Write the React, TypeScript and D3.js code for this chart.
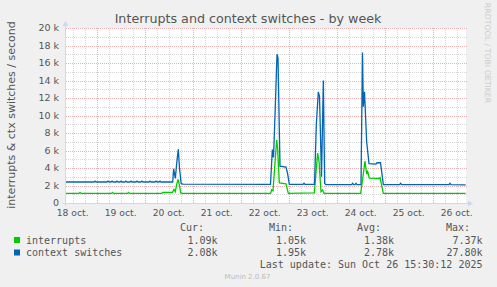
import React from "react";
import * as d3 from "d3";

const W = 497;
const H = 287;

const yTicks = [0, 2000, 4000, 6000, 8000, 10000, 12000, 14000, 16000, 18000, 20000];
const yTickLabels = ["0", "2 k", "4 k", "6 k", "8 k", "10 k", "12 k", "14 k", "16 k", "18 k", "20 k"];
const dayLabels = ["18 oct.", "19 oct.", "20 oct.", "21 oct.", "22 oct.", "23 oct.", "24 oct.", "25 oct.", "26 oct."];
const dayNumbers = [18, 19, 20, 21, 22, 23, 24, 25, 26];

// [ "day hh:mm", value in k ]
const interruptsPts: [string, number][] = [
  ["18 08:40", 1.1], ["18 15:10", 1.1], ["18 15:40", 1.22], ["18 16:10", 1.1],
  ["19 07:25", 1.1], ["19 07:55", 1.22], ["19 08:25", 1.1],
  ["19 15:25", 1.1], ["19 15:55", 1.22], ["19 16:25", 1.1],
  ["20 08:30", 1.1], ["20 09:00", 1.2], ["20 13:55", 1.22], ["20 14:40", 1.55], ["20 15:20", 1.3],
  ["20 15:55", 2.0], ["20 16:40", 2.7], ["20 17:20", 2.1], ["20 18:00", 1.15], ["20 19:00", 1.1],
  ["22 15:00", 1.1], ["22 15:30", 1.5], ["22 16:10", 1.4], ["22 16:55", 3.8], ["22 18:00", 7.2],
  ["22 18:30", 6.2], ["22 19:20", 2.3], ["22 22:40", 2.2], ["22 23:50", 1.1],
  ["23 12:50", 1.15], ["23 13:40", 3.5], ["23 14:30", 5.7], ["23 15:10", 4.8], ["23 16:10", 1.3],
  ["23 17:00", 1.5], ["23 17:40", 1.1],
  ["24 12:00", 1.1], ["24 12:55", 2.6], ["24 14:10", 4.8], ["24 15:00", 3.3], ["24 15:30", 3.6],
  ["24 16:20", 2.85], ["24 21:10", 2.8], ["24 21:40", 2.9], ["24 23:20", 1.1],
  ["26 16:30", 1.09],
];

const ctxPts: [string, number][] = [
  ["18 08:40", 2.4],
  ["18 22:40", 2.4], ["18 23:10", 2.5], ["18 23:40", 2.4],
  ["19 05:10", 2.4], ["19 05:40", 2.5], ["19 06:10", 2.4],
  ["19 07:10", 2.4], ["19 07:40", 2.5], ["19 08:10", 2.4],
  ["19 09:40", 2.4], ["19 10:10", 2.5], ["19 10:40", 2.4],
  ["19 11:40", 2.4], ["19 12:10", 2.5], ["19 12:40", 2.4],
  ["19 14:10", 2.4], ["19 14:40", 2.5], ["19 15:10", 2.4],
  ["19 16:40", 2.4], ["19 17:10", 2.5], ["19 17:40", 2.4],
  ["19 19:40", 2.4], ["19 20:10", 2.5], ["19 20:40", 2.4],
  ["19 22:10", 2.4], ["19 22:40", 2.5], ["19 23:10", 2.4],
  ["20 02:10", 2.4], ["20 02:40", 2.5], ["20 03:10", 2.4],
  ["20 05:10", 2.4], ["20 05:40", 2.5], ["20 06:10", 2.4],
  ["20 07:10", 2.4], ["20 07:40", 2.5], ["20 08:10", 2.4],
  ["20 14:00", 2.4], ["20 14:30", 3.9], ["20 15:20", 2.8], ["20 16:00", 4.5], ["20 16:50", 6.15],
  ["20 17:25", 4.0], ["20 18:15", 2.2], ["20 19:10", 2.15],
  ["22 14:55", 2.12], ["22 15:50", 6.1], ["22 16:25", 5.2], ["22 17:10", 10], ["22 18:10", 17],
  ["22 18:40", 16.6], ["22 19:40", 4.2], ["22 22:40", 4.1], ["22 23:25", 3.4], ["23 00:20", 2.12],
  ["23 07:10", 2.12], ["23 07:40", 2.25], ["23 08:10", 2.12],
  ["23 12:55", 2.12], ["23 13:50", 9], ["23 14:50", 12.7], ["23 15:25", 12.2], ["23 16:25", 3.0],
  ["23 17:20", 14], ["23 18:00", 2.2], ["23 18:40", 2.1],
  ["24 07:30", 2.1], ["24 08:00", 2.25], ["24 08:30", 2.1],
  ["24 09:10", 2.1], ["24 09:40", 2.25], ["24 10:10", 2.1],
  ["24 12:10", 2.1], ["24 12:55", 17.2], ["24 13:20", 11], ["24 13:55", 12.7], ["24 15:00", 7],
  ["24 16:10", 4.5], ["24 19:40", 4.45], ["24 20:10", 4.6], ["24 21:55", 4.6], ["24 23:20", 2.1],
  ["25 07:30", 2.1], ["25 08:00", 2.25], ["25 08:30", 2.1],
  ["26 08:10", 2.1], ["26 08:40", 2.25], ["26 09:10", 2.1],
  ["26 16:30", 2.08],
];

const legendRows = [
  { name: "interrupts", color: "#00CC00", cur: "1.09k", min: "1.05k", avg: "1.38k", max: "7.37k" },
  { name: "context switches", color: "#0066B3", cur: "2.08k", min: "1.95k", avg: "2.78k", max: "27.80k" },
];

function parseT(s: string): Date {
  const [d, hm] = s.split(" ");
  const [h, m] = hm.split(":").map(Number);
  return new Date(2025, 9, Number(d), h, m);
}

export default function App() {
  const left = 66, right = 466, top = 28, bottom = 203;
  const x = d3.scaleTime()
    .domain([new Date(2025, 9, 18, 8, 40), new Date(2025, 9, 26, 16, 40)])
    .range([left, right]);
  const y = d3.scaleLinear().domain([0, 20000]).range([bottom, top]);

  const line = d3.line<[string, number]>()
    .x((d) => x(parseT(d[0])))
    .y((d) => y(d[1] * 1000));

  const minorY = d3.range(1000, 20001, 1000).filter((v) => v % 2000 !== 0);
  const hours6 = d3.timeHour.every(6)!.range(x.domain()[0], x.domain()[1]);
  const minorX = hours6.filter((t) => t.getHours() !== 0);
  const majorX = hours6.filter((t) => t.getHours() === 0);

  const font = "'DejaVu Sans', sans-serif";
  const mono = "'DejaVu Sans Mono', monospace";
  const fc = "#555555";

  return (
    <svg width={W} height={H} style={{ display: "block", position: "absolute", left: 0, top: 0 }}>
      <rect x={0} y={0} width={W} height={H} fill="#F0F0F0" />
      <rect x={left} y={top} width={right - left} height={bottom - top} fill="#FFFFFF" />
      {/* minor grid */}
      {minorY.map((v) => (
        <line key={"my" + v} x1={left} x2={right + 1} y1={Math.round(y(v)) + 0.5} y2={Math.round(y(v)) + 0.5}
          stroke="#d6d6d6" strokeDasharray="1,1" />
      ))}
      {minorX.map((t, i) => (
        <line key={"mx" + i} x1={Math.round(x(t)) + 0.5} x2={Math.round(x(t)) + 0.5} y1={top} y2={bottom}
          stroke="#d6d6d6" strokeDasharray="1,1" />
      ))}
      {/* major grid */}
      {yTicks.slice(1).map((v) => (
        <line key={"My" + v} x1={left} x2={right + 1} y1={Math.round(y(v)) + 0.5} y2={Math.round(y(v)) + 0.5}
          stroke="#ecb0b0" strokeDasharray="1,1" />
      ))}
      {majorX.map((t, i) => (
        <line key={"Mx" + i} x1={Math.round(x(t)) + 0.5} x2={Math.round(x(t)) + 0.5} y1={top} y2={bottom}
          stroke="#ecb0b0" strokeDasharray="1,1" />
      ))}
      {/* series */}
      <path d={line(interruptsPts) ?? ""} fill="none" stroke="#00CC00" strokeWidth={1.3} />
      <path d={line(ctxPts) ?? ""} fill="none" stroke="#0066B3" strokeWidth={1.3} />
      {/* axes */}
      <line x1={left - 0.5} x2={left - 0.5} y1={bottom + 3} y2={top - 4} stroke="#CFD6F8" />
      <line x1={left - 3} x2={right + 3} y1={bottom + 0.5} y2={bottom + 0.5} stroke="#CFD6F8" />
      <path d={`M${left - 3.5},${top - 2} L${left - 0.5},${top - 7} L${left + 2.5},${top - 2} Z`} fill="#CFD6F8" />
      <path d={`M${right + 2},${bottom - 2.5} L${right + 7},${bottom + 0.5} L${right + 2},${bottom + 3.5} Z`} fill="#CFD6F8" />
      {/* y tick labels */}
      {yTicks.map((v, i) => (
        <text key={"yl" + v} x={59} y={y(v)} dy="0.35em" textAnchor="end" fontFamily={font} fontSize={9.5} fill={fc}>
          {yTickLabels[i]}
        </text>
      ))}
      {/* x tick labels at noon */}
      {dayNumbers.map((d, i) => (
        <text key={"xl" + d} x={x(new Date(2025, 9, d, 12, 0))} y={216} textAnchor="middle" fontFamily={font} fontSize={9.2} fill={fc}>
          {dayLabels[i]}
        </text>
      ))}
      {/* title */}
      <text x={248} y={23} textAnchor="middle" fontFamily={font} fontSize={12.7} fill={fc}>
        Interrupts and context switches - by week
      </text>
      {/* y axis label */}
      <text transform="translate(15,115) rotate(-90)" textAnchor="middle" fontFamily={font} fontSize={11} fill={fc}>
        interrupts &amp; ctx switches / second
      </text>
      {/* watermark */}
      <text transform="translate(484.5,53) rotate(90)" textAnchor="middle" fontFamily={font} fontSize={7.8} fill="#cccccc">
        RRDTOOL / TOBI OETIKER
      </text>
      {/* legend */}
      <g fontFamily={mono} fontSize={10} fill={fc}>
        <text x={204} y={231} textAnchor="end">Cur:</text>
        <text x={293} y={231} textAnchor="end">Min:</text>
        <text x={381} y={231} textAnchor="end">Avg:</text>
        <text x={470} y={231} textAnchor="end">Max:</text>
        {legendRows.map((r, i) => (
          <g key={r.name}>
            <rect x={14} y={237 + i * 12.5} width={6} height={6} fill={r.color} />
            <text x={26} y={243.5 + i * 12.5}>{r.name}</text>
            <text x={217.5} y={243.5 + i * 12.5} textAnchor="end">{r.cur}</text>
            <text x={306} y={243.5 + i * 12.5} textAnchor="end">{r.min}</text>
            <text x={394} y={243.5 + i * 12.5} textAnchor="end">{r.avg}</text>
            <text x={482.5} y={243.5 + i * 12.5} textAnchor="end">{r.max}</text>
          </g>
        ))}
        <text x={482.5} y={267.5} textAnchor="end">Last update: Sun Oct 26 15:30:12 2025</text>
      </g>
      <text x={247.5} y={279} textAnchor="middle" fontFamily={font} fontSize={7} fill="#bbbbbb">Munin 2.0.67</text>
    </svg>
  );
}
